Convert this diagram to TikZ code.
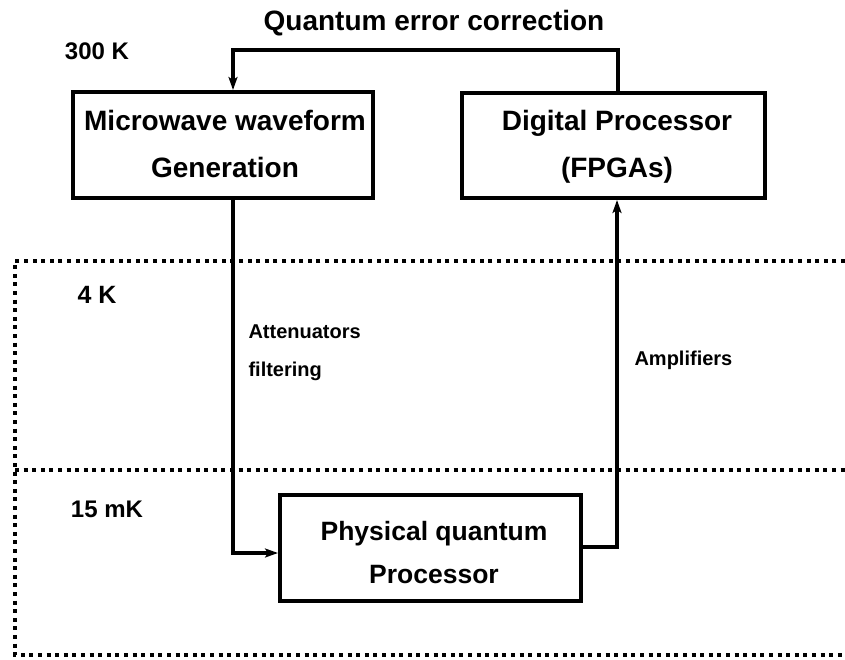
\documentclass[tikz,border=0pt]{standalone}
\usepackage{fontspec}
\setmainfont{Liberation Sans}
\usetikzlibrary{arrows.meta}

\begin{document}
\begin{tikzpicture}[x=1pt,y=-1pt,
  frame/.style={draw,line width=4pt,inner sep=0pt},
  blocktext/.style={align=center,inner sep=0pt,
    font=\bfseries\fontsize{28}{47}\selectfont},
  wire/.style={line width=3.2pt},
  feed/.style={wire,-{Stealth[length=13pt,width=9pt,inset=3pt]}},
  zone/.style={line width=3.5pt,dash pattern=on 4pt off 4.6pt},
  stage/.style={font=\bfseries\fontsize{24}{28}\selectfont,anchor=base},
  note/.style={font=\bfseries\fontsize{20}{24}\selectfont,anchor=base west}]

\useasboundingbox (0,0) rectangle (845,660);

% temperature stages
\draw[zone] (845,261) -- (15,261) -- (15,655) -- (845,655);
\draw[zone] (15,470) -- (845,470);

% blocks
\node[frame,minimum width=300pt,minimum height=106pt] (mw) at (223,145) {};
\node[blocktext] (mwt) at (225,144) {Microwave waveform\\Generation};
\node[frame,minimum width=303pt,minimum height=105pt] (dp) at (613.5,145.5) {};
\node[blocktext] (dpt) at (617,147) {Digital Processor\\(FPGAs)};
\node[frame,minimum width=301pt,minimum height=106pt] (pq) at (430.5,548) {};
\node[blocktext,font=\bfseries\fontsize{26.5}{43}\selectfont] (pqt) at (434,553)
  {Physical quantum\\Processor};

% labels
\node[stage,font=\bfseries\fontsize{28}{30}\selectfont] (qec) at (434,31)
  {Quantum error correction};
\node[stage] (t300) at (97,60) {300 K};
\node[stage,font=\bfseries\fontsize{25}{28}\selectfont] (t4) at (97,303) {4 K};
\node[stage] (t15) at (107,517) {15 mK};
\node[note] (att) at (245,338) {Attenuators};
\node[note] (filt) at (245,376) {filtering};
\node[note] (amp) at (631,365) {Amplifiers};

% routing points
\coordinate (qecL) at (233,50);
\coordinate (qecR) at (618,50);
\coordinate (dnL) at (233,553);
\coordinate (upR) at (617,547);

% connectors
\draw[feed] (dp.north -| qecR) -- (qecR) -- (qecL) -- (mw.north -| qecL);
\draw[feed] (mw.south -| dnL) -- (dnL) -- (pq.west |- dnL);
\draw[feed] (pq.east |- upR) -- (upR) -- (dp.south -| upR);
\end{tikzpicture}
\end{document}
